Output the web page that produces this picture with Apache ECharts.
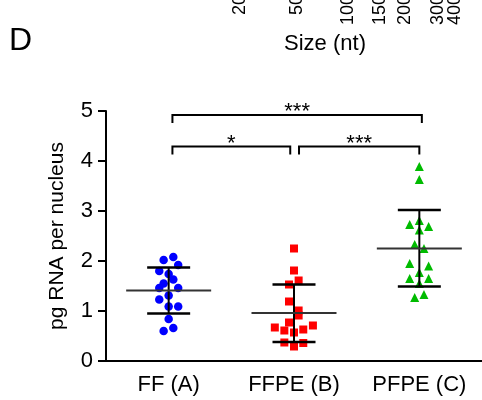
<!DOCTYPE html>
<html>
<head>
<meta charset="utf-8">
<script src="https://cdn.jsdelivr.net/npm/echarts@6/dist/echarts.min.js"></script>
<style>html,body{margin:0;padding:0;background:#fff}#c{width:482px;height:400px}</style>
</head>
<body>
<div id="c"></div>
<script>
var categories = ['FF (A)', 'FFPE (B)', 'PFPE (C)'];
var yTicks = [0, 1, 2, 3, 4, 5];

// values (pg RNA per nucleus) and horizontal jitter (category units)
var ffValues   = [2.02, 2.08, 1.92, 1.80, 1.74, 1.63, 1.55, 1.46, 1.46, 1.31, 1.23, 1.09, 1.09, 0.84, 0.66, 0.60];
var ffJitter   = [-0.04, 0.037, 0.076, -0.075, 0, 0.037, -0.04, -0.075, 0.076, 0, -0.075, 0, 0.076, 0, 0.037, -0.04];
var ffpeValues = [2.25, 1.81, 1.61, 1.53, 1.19, 1.01, 0.91, 0.77, 0.67, 0.61, 0.57, 0.63, 0.71, 0.37, 0.36, 0.29];
var ffpeJitter = [0, 0, 0.037, -0.04, -0.04, 0.037, 0.037, -0.04, -0.153, -0.077, 0, 0.074, 0.151, -0.077, 0.074, 0];
var pfpeValues = [3.89, 3.63, 2.81, 2.73, 2.69, 2.62, 2.33, 2.25, 1.95, 1.90, 1.77, 1.65, 1.65, 1.55, 1.33, 1.27];
var pfpeJitter = [0, 0, 0, -0.077, 0.074, 0, -0.037, 0.037, -0.077, 0.074, 0, -0.077, 0.074, 0, 0.037, -0.037];

// group mean and mean +/- SD
var means = [1.41, 0.96, 2.25];
var sdLow = [0.95, 0.38, 1.49];
var sdHigh = [1.87, 1.53, 3.02];

// significance brackets: from category, to category, level
var bracketFrom = [0.03, 1.04, 0.03];
var bracketTo = [0.97, 2.0, 2.02];
var bracketLevel = [4.29, 4.29, 4.92];
var bracketStars = ['*', '***', '***'];

// clipped tick labels of the panel above
var topTickLabels = ['20', '50', '100', '150', '200', '300', '400'];
var topTickX = [240, 297, 348.5, 380, 405.5, 438.5, 455.5];

var FONT = 'Liberation Sans, Arial, Helvetica, sans-serif';

function pts(vals, jit, idx) {
  return vals.map(function (v, i) { return [idx + jit[i], v]; });
}

var errData = categories.map(function (c, i) { return [i, means[i], sdLow[i], sdHigh[i]]; });
var brData = bracketFrom.map(function (f, i) { return [f, bracketTo[i], bracketLevel[i]]; });

var graphics = [
  { type: 'text', left: 9, top: 25, style: { text: 'D', font: '32px ' + FONT, fill: '#000' } },
  { type: 'text', x: 325, y: 44, style: { text: 'Size (nt)', font: '22px ' + FONT, fill: '#000', align: 'center', verticalAlign: 'middle' } }
];
topTickLabels.forEach(function (t, i) {
  graphics.push({ type: 'text', x: topTickX[i], y: -5, rotation: Math.PI / 2,
    style: { text: t, font: '18px ' + FONT, fill: '#000', align: 'right', verticalAlign: 'middle' } });
});

var chart = echarts.init(document.getElementById('c'), null, { renderer: 'canvas' });
chart.setOption({
  animation: false,
  backgroundColor: '#fff',
  textStyle: { fontFamily: FONT },
  graphic: graphics,
  grid: { left: 106, width: 379, top: 111, bottom: 39 },
  xAxis: [
    { type: 'category', data: categories, boundaryGap: true,
      axisLine: { lineStyle: { color: '#000', width: 2 } },
      axisTick: { alignWithLabel: true, length: 8, lineStyle: { color: '#000', width: 2 } },
      axisLabel: { color: '#000', fontSize: 22, margin: 13, fontFamily: FONT },
      splitLine: { show: false } },
    { type: 'value', min: -0.5, max: 2.5, show: false, splitLine: { show: false } }
  ],
  yAxis: {
    type: 'value', min: yTicks[0], max: yTicks[yTicks.length - 1], interval: 1,
    name: 'pg RNA per nucleus', nameLocation: 'middle', nameGap: 38,
    nameTextStyle: { color: '#000', fontSize: 21, fontFamily: FONT },
    axisLine: { show: true, onZero: false, lineStyle: { color: '#000', width: 2 } },
    axisTick: { show: true, length: 8, lineStyle: { color: '#000', width: 2 } },
    axisLabel: { color: '#000', fontSize: 22, margin: 13, fontFamily: FONT },
    splitLine: { show: false }
  },
  series: [
    { type: 'scatter', xAxisIndex: 1, data: pts(ffValues, ffJitter, 0), symbol: 'circle', symbolSize: 8.5,
      itemStyle: { color: '#0000ff', opacity: 1 }, z: 2 },
    { type: 'scatter', xAxisIndex: 1, data: pts(ffpeValues, ffpeJitter, 1), symbol: 'rect', symbolSize: 8,
      itemStyle: { color: '#ff0000', opacity: 1 }, z: 2 },
    { type: 'scatter', xAxisIndex: 1, data: pts(pfpeValues, pfpeJitter, 2), symbol: 'triangle', symbolSize: 9,
      itemStyle: { color: '#00bb00', opacity: 1 }, z: 2 },
    { type: 'custom', xAxisIndex: 1, data: errData, encode: { x: 0, y: [1, 2, 3] }, z: 5,
      renderItem: function (params, api) {
        var m = api.coord([api.value(0), api.value(1)]);
        var lo = api.coord([api.value(0), api.value(2)]);
        var hi = api.coord([api.value(0), api.value(3)]);
        var x = m[0];
        return { type: 'group', children: [
          { type: 'line', shape: { x1: x, y1: lo[1], x2: x, y2: hi[1] }, style: { stroke: '#000', lineWidth: 2 } },
          { type: 'line', shape: { x1: x - 21.5, y1: lo[1], x2: x + 21.5, y2: lo[1] }, style: { stroke: '#000', lineWidth: 2.5 } },
          { type: 'line', shape: { x1: x - 21.5, y1: hi[1], x2: x + 21.5, y2: hi[1] }, style: { stroke: '#000', lineWidth: 2.5 } },
          { type: 'line', shape: { x1: x - 42.5, y1: m[1], x2: x + 42.5, y2: m[1] }, style: { stroke: '#333', lineWidth: 2 } }
        ] };
      } },
    { type: 'custom', xAxisIndex: 1, data: brData, encode: { x: [0, 1], y: 2 }, z: 5,
      renderItem: function (params, api) {
        var p1 = api.coord([api.value(0), api.value(2)]);
        var p2 = api.coord([api.value(1), api.value(2)]);
        return { type: 'group', children: [
          { type: 'polyline', shape: { points: [[p1[0], p1[1] + 8], [p1[0], p1[1]], [p2[0], p2[1]], [p2[0], p2[1] + 8]] },
            style: { stroke: '#000', lineWidth: 2, fill: null } },
          { type: 'text', x: (p1[0] + p2[0]) / 2, y: p1[1] + 8,
            style: { text: bracketStars[params.dataIndex], font: '22px ' + FONT, fill: '#000', align: 'center', verticalAlign: 'bottom' } }
        ] };
      } }
  ]
});
</script>
</body>
</html>
